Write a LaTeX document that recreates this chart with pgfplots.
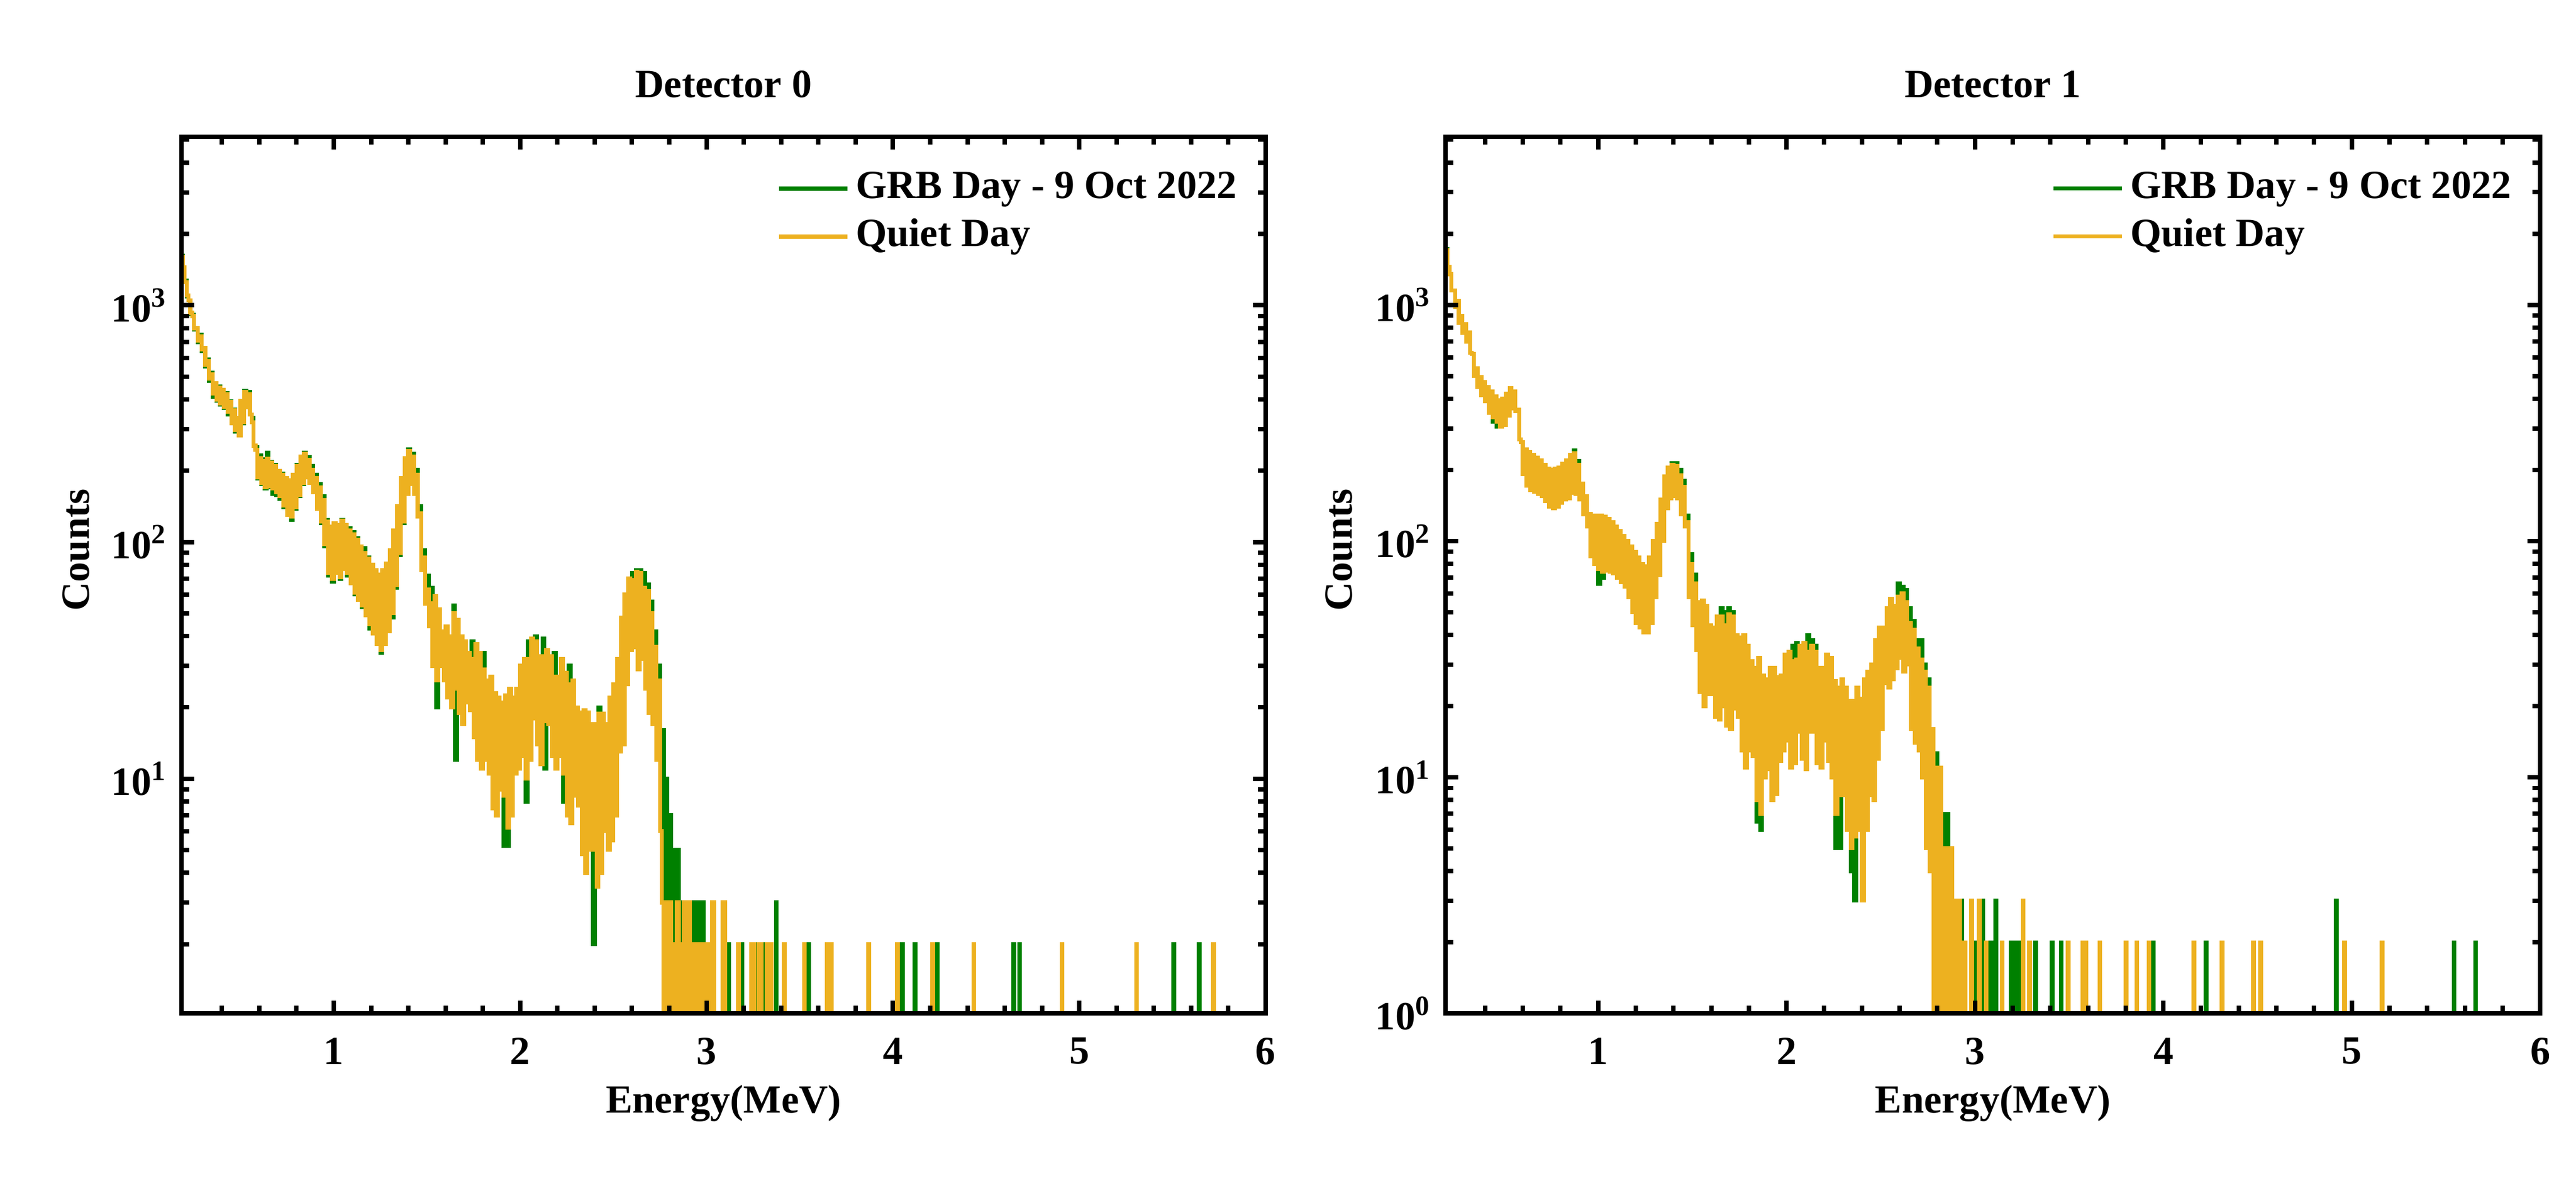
\documentclass[border=0pt]{standalone}
\usepackage{fontspec}
\setmainfont{Liberation Serif}
\usepackage{pgfplots}
\usepackage{pgfplotstable}
\pgfplotsset{compat=1.18}
\definecolor{grb}{RGB}{0,128,0}
\definecolor{quiet}{RGB}{237,177,32}

\pgfplotstableread{
E y
0.18 1600
0.19 1450
0.20 1250
0.21 1100
0.22 1050
0.23 930
0.24 900
0.25 800
0.26 800
0.27 710
0.28 740
0.29 650
0.30 660
0.31 560
0.32 580
0.33 490
0.34 510
0.35 425
0.36 470
0.37 400
0.38 450
0.39 385
0.40 440
0.41 372
0.42 420
0.43 355
0.44 390
0.45 318
0.46 360
0.47 298
0.48 335
0.49 282
0.50 395
0.51 320
0.52 430
0.53 370
0.54 420
0.55 345
0.56 320
0.57 255
0.58 245
0.59 188
0.60 226
0.61 178
0.62 220
0.63 170
0.64 225
0.65 172
0.66 216
0.67 168
0.68 210
0.69 162
0.70 200
0.71 156
0.72 192
0.73 143
0.74 186
0.75 130
0.76 182
0.77 128
0.78 192
0.79 140
0.80 210
0.81 158
0.82 230
0.83 178
0.84 236
0.85 188
0.86 222
0.87 178
0.88 202
0.89 162
0.90 186
0.91 138
0.92 170
0.93 122
0.94 150
0.95 98
0.96 122
0.97 74
0.98 116
0.99 70
1.00 120
1.01 74
1.02 118
1.03 71
1.04 123
1.05 77
1.06 118
1.07 74
1.08 112
1.09 67
1.10 108
1.11 61
1.12 102
1.13 57
1.14 96
1.15 54
1.16 90
1.17 49
1.18 85
1.19 45
1.20 80
1.21 41
1.22 76
1.23 37
1.24 73
1.25 35
1.26 76
1.27 37
1.28 81
1.29 42
1.30 92
1.31 50
1.32 112
1.33 66
1.34 142
1.35 90
1.36 186
1.37 122
1.38 226
1.39 160
1.40 242
1.41 176
1.42 230
1.43 160
1.44 192
1.45 128
1.46 132
1.47 76
1.48 86
1.49 55
1.50 63
1.51 44
1.52 55
1.53 30
1.54 59
1.55 26
1.56 52
1.57 30
1.58 42
1.59 26
1.60 44
1.61 22
1.62 40
1.63 20
1.64 50
1.65 24
1.66 47
1.67 19
1.68 40
1.69 17
1.70 38
1.71 21
1.72 34
1.73 19.5
1.74 32
1.75 15
1.76 37
1.77 12
1.78 34
1.79 11
1.80 29
1.81 12
1.82 26
1.83 10.5
1.84 27
1.85 7.5
1.86 23
1.87 7
1.88 22
1.89 9
1.90 21
1.91 8.5
1.92 22.5
1.93 6.2
1.94 24
1.95 7
1.96 22
1.97 10.5
1.98 24
1.99 11
2.00 30
2.01 12.5
2.02 32
2.03 10
2.04 32
2.05 12
2.06 39
2.07 18
2.08 38
2.09 14
2.10 33
2.11 11.5
2.12 33
2.13 17.5
2.14 35
2.15 17
2.16 33
2.17 12.5
2.18 27
2.19 11
2.20 27
2.21 12.5
2.22 32
2.23 10.5
2.24 28
2.25 7
2.26 25
2.27 6.5
2.28 26
2.29 8.5
2.30 20
2.31 7.7
2.32 19
2.33 4.8
2.34 19.5
2.35 4
2.36 19
2.37 5
2.38 17
2.39 5
2.40 17
2.41 3.5
2.42 18.8
2.43 4
2.44 18.8
2.45 6
2.46 17
2.47 5
2.48 22
2.49 5.5
2.50 25
2.51 7
2.52 32
2.53 13
2.54 48
2.55 14
2.56 60
2.57 25
2.58 70
2.59 35
2.60 69
2.61 36
2.62 75
2.63 29
2.64 74
2.65 32
2.66 64
2.67 24
2.68 62
2.69 19
2.70 50
2.71 17
2.72 36
2.73 12
2.74 26
2.75 6
2.76 3
2.77 0.1
2.78 3
2.79 0.1
2.80 3
2.81 0.1
2.82 2
2.83 0.1
2.84 3
2.85 0.1
2.86 2
2.87 0.1
2.88 3
2.89 0.1
2.90 3
2.91 0.1
2.92 2
2.93 0.1
2.94 2
2.95 0.1
2.96 2
2.97 0.1
2.98 2
2.99 0.1
3.00 2
3.01 0.1
3.02 2
3.03 3
3.04 0.1
3.085 3
3.10 0.1
3.170 2
3.174 0.1
3.240 2
3.250 0.1
3.253 2
3.257 0.1
3.280 2
3.284 0.1
3.292 2
3.296 0.1
3.324 2
3.328 0.1
3.346 2
3.350 0.1
3.415 2
3.419 0.1
3.523 2
3.527 0.1
3.645 2
3.649 0.1
3.668 2
3.672 0.1
3.868 2
3.872 0.1
4.022 2
4.026 0.1
4.212 2
4.216 0.1
4.432 2
4.436 0.1
4.906 2
4.910 0.1
5.305 2
5.309 0.1
5.719 2
5.723 0.1
6.00 0.1
}\LQ

\pgfplotstableread{
E y
0.18 1620
0.19 1450
0.20 1270
0.21 1090
0.22 1050
0.23 920
0.24 910
0.25 790
0.26 800
0.27 700
0.28 750
0.29 640
0.30 660
0.31 550
0.32 590
0.33 480
0.34 520
0.35 410
0.36 470
0.37 395
0.38 455
0.39 380
0.40 440
0.41 368
0.42 425
0.43 345
0.44 392
0.45 318
0.46 362
0.47 292
0.48 335
0.49 282
0.50 395
0.51 318
0.52 435
0.53 370
0.54 430
0.55 345
0.56 335
0.57 255
0.58 252
0.59 186
0.60 232
0.61 176
0.62 224
0.63 168
0.64 238
0.65 170
0.66 218
0.67 160
0.68 212
0.69 158
0.70 200
0.71 152
0.72 194
0.73 140
0.74 186
0.75 130
0.76 182
0.77 124
0.78 192
0.79 138
0.80 212
0.81 156
0.82 230
0.83 176
0.84 238
0.85 188
0.86 228
0.87 178
0.88 210
0.89 162
0.90 192
0.91 138
0.92 176
0.93 120
0.94 156
0.95 96
0.96 124
0.97 72
0.98 116
0.99 68
1.00 120
1.01 74
1.02 118
1.03 70
1.04 124
1.05 77
1.06 118
1.07 72
1.08 114
1.09 67
1.10 110
1.11 60
1.12 104
1.13 57
1.14 96
1.15 53
1.16 94
1.17 49
1.18 86
1.19 43
1.20 80
1.21 41
1.22 76
1.23 37
1.24 73
1.25 34
1.26 76
1.27 37
1.28 81
1.29 42
1.30 92
1.31 48
1.32 112
1.33 64
1.34 142
1.35 88
1.36 186
1.37 120
1.38 226
1.39 160
1.40 246
1.41 176
1.42 236
1.43 160
1.44 202
1.45 128
1.46 142
1.47 76
1.48 92
1.49 55
1.50 72
1.51 44
1.52 64
1.53 30
1.54 59
1.55 20
1.56 52
1.57 30
1.58 42
1.59 26
1.60 44
1.61 22
1.62 40
1.63 20
1.64 54
1.65 12
1.66 47
1.67 19
1.68 40
1.69 17
1.70 38
1.71 21
1.72 34
1.73 19.5
1.74 38
1.75 15
1.76 37
1.77 12
1.78 34
1.79 11
1.80 34
1.81 12
1.82 26
1.83 10.5
1.84 27
1.85 7.5
1.86 23
1.87 7
1.88 22
1.89 9
1.90 21
1.91 5.2
1.92 22.5
1.93 5.2
1.94 24
1.95 7
1.96 22
1.97 10.5
1.98 24
1.99 11
2.00 30
2.01 12.5
2.02 32
2.03 8
2.04 38
2.05 12
2.06 39
2.07 18
2.08 40
2.09 14
2.10 33
2.11 11.5
2.12 39
2.13 11
2.14 35
2.15 17
2.16 33
2.17 12.5
2.18 34
2.19 11
2.20 27
2.21 12.5
2.22 32
2.23 8
2.24 28
2.25 7
2.26 30
2.27 6.5
2.28 26
2.29 8.5
2.30 20
2.31 7.7
2.32 19
2.33 4.8
2.34 19.5
2.35 4
2.36 19
2.37 5
2.38 17
2.39 2
2.40 17
2.41 3.5
2.42 20
2.43 4
2.44 18.8
2.45 6
2.46 17
2.47 5
2.48 22
2.49 5.5
2.50 25
2.51 7
2.52 32
2.53 13
2.54 48
2.55 14
2.56 60
2.57 25
2.58 70
2.59 35
2.60 74
2.61 36
2.62 76
2.63 29
2.64 76
2.65 32
2.66 74
2.67 24
2.68 66
2.69 19
2.70 56
2.71 17
2.72 42
2.73 12
2.74 30
2.75 7
2.76 16
2.77 0.1
2.78 10
2.79 0.1
2.80 7
2.81 0.1
2.82 5
2.83 0.1
2.84 5
2.85 0.1
2.86 3
2.87 0.1
2.89 3
2.895 0.1
2.93 3
2.935 0.1
2.94 3
2.945 0.1
2.95 3
2.955 0.1
2.96 3
2.965 0.1
2.97 3
2.975 0.1
2.98 3
2.985 0.1
3.117 2
3.121 0.1
3.188 2
3.192 0.1
3.245 2
3.249 0.1
3.269 2
3.273 0.1
3.305 2
3.309 0.1
3.327 2
3.331 0.1
3.372 3
3.376 0.1
3.545 2
3.549 0.1
4.049 2
4.053 0.1
4.117 2
4.121 0.1
4.235 2
4.239 0.1
4.646 2
4.650 0.1
4.678 2
4.682 0.1
5.505 2
5.509 0.1
5.642 2
5.646 0.1
6.00 0.1
}\LG

\pgfplotstableread{
E y
0.19 1700
0.20 1450
0.21 1350
0.22 1150
0.23 1150
0.24 980
0.25 1040
0.26 840
0.27 900
0.28 760
0.29 830
0.30 700
0.31 765
0.32 627
0.33 620
0.34 500
0.35 540
0.36 450
0.37 495
0.38 415
0.39 470
0.40 390
0.41 450
0.42 350
0.43 430
0.44 335
0.45 410
0.46 320
0.47 395
0.48 305
0.49 400
0.50 310
0.51 420
0.52 340
0.53 445
0.54 365
0.55 430
0.56 355
0.57 360
0.58 270
0.59 262
0.60 192
0.61 245
0.62 172
0.63 238
0.64 164
0.65 232
0.66 162
0.67 225
0.68 158
0.69 220
0.70 155
0.71 210
0.72 148
0.73 202
0.74 140
0.75 200
0.76 138
0.77 202
0.78 140
0.79 205
0.80 145
0.81 212
0.82 150
0.83 220
0.84 152
0.85 232
0.86 160
0.87 235
0.88 158
0.89 210
0.90 150
0.91 175
0.92 130
0.93 155
0.94 115
0.95 130
0.96 86
0.97 128
0.98 80
0.99 128
1.00 76
1.01 128
1.02 74
1.03 127
1.04 75
1.05 124
1.06 74
1.07 120
1.08 73
1.09 115
1.10 70
1.11 110
1.12 67
1.13 105
1.14 64
1.15 100
1.16 58
1.17 95
1.18 50
1.19 90
1.20 45
1.21 85
1.22 43
1.23 80
1.24 41
1.25 78
1.26 41
1.27 85
1.28 45
1.29 100
1.30 58
1.31 118
1.32 72
1.33 150
1.34 100
1.35 188
1.36 138
1.37 205
1.38 152
1.39 210
1.40 155
1.41 208
1.42 152
1.43 190
1.44 130
1.45 170
1.46 115
1.47 120
1.48 58
1.49 80
1.50 44
1.51 66
1.52 34.5
1.53 55
1.54 23
1.55 56
1.56 20
1.57 53
1.58 22.5
1.59 44
1.60 22.5
1.61 43
1.62 18
1.63 48
1.64 17.5
1.65 48
1.66 20
1.67 44
1.68 16.5
1.69 49
1.70 16
1.71 48
1.72 19.5
1.73 40
1.74 18
1.75 39
1.76 13
1.77 40
1.78 11
1.79 36
1.80 13
1.81 31
1.82 12.3
1.83 29
1.84 8
1.85 32
1.86 7
1.87 27
1.88 10
1.89 26
1.90 10.8
1.91 29
1.92 8
1.93 29
1.94 8.5
1.95 26.5
1.96 11.7
1.97 27
1.98 13
1.99 33
2.00 14.3
2.01 34
2.02 11
2.03 31
2.04 11.5
2.05 31.5
2.06 15.6
2.07 36
2.08 12
2.09 37
2.10 10.8
2.11 34
2.12 15.6
2.13 36
2.14 15.6
2.15 34
2.16 11.5
2.17 29
2.18 11
2.19 29
2.20 14.3
2.21 33
2.22 11.7
2.23 32
2.24 10
2.25 25.5
2.26 7
2.27 24
2.28 8.4
2.29 26
2.30 8.4
2.31 24
2.32 6
2.33 21
2.34 5
2.35 21
2.36 5.6
2.37 24
2.38 6
2.39 21.5
2.40 3
2.41 26
2.42 6
2.43 28
2.44 8.4
2.45 30
2.46 8
2.47 38
2.48 12
2.49 43
2.50 16
2.51 43
2.52 25
2.53 52
2.54 24
2.55 57
2.56 26
2.57 53
2.58 29
2.59 58
2.60 32
2.61 60
2.62 28
2.63 55
2.64 30
2.65 45
2.66 16
2.67 42
2.68 14
2.69 35
2.70 13
2.71 31.5
2.72 10
2.73 28
2.74 5
2.75 24
2.76 4
2.77 16
2.78 0.1
2.79 11
2.80 0.1
2.81 11
2.82 0.1
2.83 5
2.84 0.1
2.85 5
2.86 0.1
2.87 5
2.88 0.1
2.89 3
2.90 0.1
2.91 3
2.92 0.1
2.93 2
2.94 0.1
2.945 2
2.95 0.1
2.980 3
2.984 0.1
3.021 3
3.025 0.1
3.058 2
3.062 0.1
3.142 2
3.146 0.1
3.254 3
3.258 0.1
3.288 2
3.292 0.1
3.493 2
3.497 0.1
3.572 2
3.576 0.1
3.587 2
3.591 0.1
3.661 2
3.665 0.1
3.799 2
3.803 0.1
3.857 2
3.861 0.1
3.921 2
3.925 0.1
4.160 2
4.164 0.1
4.309 2
4.313 0.1
4.477 2
4.481 0.1
4.514 2
4.518 0.1
4.959 2
4.963 0.1
5.159 2
5.163 0.1
6.00 0.1
}\RQ

\pgfplotstableread{
E y
0.19 1720
0.20 1450
0.21 1350
0.22 1150
0.23 1150
0.24 980
0.25 1040
0.26 840
0.27 900
0.28 760
0.29 830
0.30 700
0.31 765
0.32 627
0.33 620
0.34 500
0.35 540
0.36 450
0.37 495
0.38 415
0.39 470
0.40 390
0.41 450
0.42 350
0.43 430
0.44 320
0.45 410
0.46 305
0.47 395
0.48 305
0.49 400
0.50 310
0.51 420
0.52 340
0.53 445
0.54 365
0.55 430
0.56 355
0.57 360
0.58 270
0.59 262
0.60 192
0.61 245
0.62 172
0.63 238
0.64 164
0.65 232
0.66 162
0.67 225
0.68 158
0.69 220
0.70 155
0.71 210
0.72 148
0.73 202
0.74 140
0.75 200
0.76 138
0.77 202
0.78 140
0.79 205
0.80 145
0.81 212
0.82 150
0.83 220
0.84 152
0.85 232
0.86 160
0.87 242
0.88 158
0.89 218
0.90 150
0.91 175
0.92 130
0.93 155
0.94 115
0.95 130
0.96 86
0.97 128
0.98 80
0.99 128
1.00 66
1.01 128
1.02 70
1.03 127
1.04 75
1.05 124
1.06 74
1.07 120
1.08 73
1.09 115
1.10 70
1.11 110
1.12 67
1.13 105
1.14 64
1.15 100
1.16 58
1.17 95
1.18 50
1.19 90
1.20 45
1.21 85
1.22 43
1.23 80
1.24 41
1.25 78
1.26 41
1.27 85
1.28 45
1.29 100
1.30 58
1.31 118
1.32 72
1.33 150
1.34 100
1.35 188
1.36 138
1.37 205
1.38 152
1.39 214
1.40 155
1.41 214
1.42 152
1.43 200
1.44 130
1.45 180
1.46 115
1.47 128
1.48 58
1.49 88
1.50 44
1.51 72
1.52 34.5
1.53 55
1.54 23
1.55 56
1.56 20
1.57 53
1.58 22.5
1.59 44
1.60 22.5
1.61 43
1.62 18
1.63 48
1.64 17.5
1.65 52
1.66 20
1.67 50
1.68 16.5
1.69 52
1.70 16
1.71 50
1.72 19.5
1.73 40
1.74 18
1.75 39
1.76 13
1.77 40
1.78 11
1.79 36
1.80 13
1.81 31
1.82 12.3
1.83 29
1.84 6.5
1.85 32
1.86 6
1.87 27
1.88 10
1.89 26
1.90 10.8
1.91 29
1.92 8
1.93 29
1.94 8.5
1.95 26.5
1.96 11.7
1.97 27
1.98 13
1.99 33
2.00 14.3
2.01 34
2.02 11
2.03 36
2.04 11.5
2.05 37
2.06 15.6
2.07 36
2.08 12
2.09 37
2.10 10.8
2.11 40
2.12 15.6
2.13 38
2.14 15.6
2.15 36
2.16 11.5
2.17 29
2.18 11
2.19 29
2.20 14.3
2.21 33
2.22 11.7
2.23 32
2.24 10
2.25 25.5
2.26 5
2.27 24
2.28 5
2.29 26
2.30 8.4
2.31 24
2.32 6
2.33 21
2.34 4
2.35 21
2.36 3
2.37 24
2.38 6
2.39 21.5
2.40 3
2.41 26
2.42 6
2.43 28
2.44 8.4
2.45 30
2.46 8
2.47 38
2.48 12
2.49 43
2.50 16
2.51 43
2.52 25
2.53 52
2.54 24
2.55 57
2.56 26
2.57 53
2.58 29
2.59 66
2.60 32
2.61 64
2.62 28
2.63 62
2.64 30
2.65 52
2.66 16
2.67 46
2.68 14
2.69 38
2.70 13
2.71 38
2.72 10
2.73 30
2.74 5
2.75 26
2.76 4
2.77 16
2.78 0.1
2.79 12.6
2.80 0.1
2.81 11
2.82 0.1
2.83 7
2.84 0.1
2.85 7
2.86 0.1
2.87 5
2.88 0.1
2.927 3
2.931 0.1
2.998 2
3.002 0.1
3.040 3
3.044 0.1
3.077 2
3.082 0.1
3.087 2
3.092 0.1
3.097 2
3.102 0.1
3.107 3
3.112 0.1
3.189 2
3.194 0.1
3.199 2
3.204 0.1
3.209 2
3.214 0.1
3.219 2
3.224 0.1
3.229 2
3.234 0.1
3.320 2
3.324 0.1
3.407 2
3.411 0.1
3.456 2
3.460 0.1
3.945 2
3.949 0.1
4.225 2
4.229 0.1
4.916 3
4.920 0.1
5.541 2
5.545 0.1
5.655 2
5.659 0.1
6.00 0.1
}\RG

\pgfplotsset{
  mystyle/.style={
    scale only axis,
    height=219.17pt,
    xmax=6, ymax=5150,
    axis on top,
    axis line style={line width=1.1pt},
    tick style={black, line width=1.1pt},
    major tick length=3.2pt,
    minor tick length=1.9pt,
    xtick={1,2,3,4,5,6},
    xticklabels={1,2,3,4,5,6},
    minor xtick={0.4,0.6,0.8,1.2,1.4,1.6,1.8,2.2,2.4,2.6,2.8,3.2,3.4,3.6,3.8,4.2,4.4,4.6,4.8,5.2,5.4,5.6,5.8},
    minor ytick={2,3,4,5,6,7,8,9,20,30,40,50,60,70,80,90,200,300,400,500,600,700,800,900,2000,3000,4000,5000},
    xticklabel style={yshift=-2.6pt, font=\bfseries},
    yticklabel style={font=\bfseries},
    xlabel={Energy(MeV)},
    ylabel={Counts},
    xlabel style={at={(axis description cs:0.5,0)}, anchor=base, yshift=-24.9pt, font=\bfseries},
    ylabel style={at={(axis description cs:-0.0855,0.5286)}, anchor=base, font=\bfseries},
    every axis title shift=0pt,
    title style={at={(axis description cs:0.5,1)}, anchor=base, yshift=9.8pt, font=\bfseries},
    legend cell align=left,
    legend style={draw=none, fill=none, at={(axis description cs:1,1)}, anchor=north east,
      xshift=-5.5pt, yshift=-6.7pt, inner sep=0pt, row sep=0pt, font=\bfseries,
      nodes={inner sep=1.5pt, text height=7pt, text depth=2pt}},
    legend image code/.code={\draw[#1, line width=1.1pt] (0pt,0pt) -- (17.2pt,0pt);},
  }
}

\begin{document}
\begin{tikzpicture}[font=\bfseries]
\path[use as bounding box] (0,0) rectangle (644pt,296.55pt);

\begin{semilogyaxis}[mystyle,
  at={(45.38pt,43.17pt)}, anchor=south west,
  width=271.03pt,
  xmin=0.183, ymin=1.02,
  ytick={10,100,1000},
  yticklabels={10\textsuperscript{1},10\textsuperscript{2},10\textsuperscript{3}},
  title={Detector 0}]
\addplot[const plot, grb, line width=1pt] table[x=E, y=y] {\LG};
\addlegendentry{GRB Day - 9 Oct 2022}
\addplot[const plot, quiet, line width=1pt] table[x=E, y=y] {\LQ};
\addlegendentry{Quiet Day}
\end{semilogyaxis}

\begin{semilogyaxis}[mystyle,
  at={(361.38pt,43.17pt)}, anchor=south west,
  width=273.66pt,
  xmin=0.19, ymin=1,
  ytick={1,10,100,1000},
  yticklabels={10\textsuperscript{0},10\textsuperscript{1},10\textsuperscript{2},10\textsuperscript{3}},
  title={Detector 1}]
\addplot[const plot, grb, line width=1pt] table[x=E, y=y] {\RG};
\addlegendentry{GRB Day - 9 Oct 2022}
\addplot[const plot, quiet, line width=1pt] table[x=E, y=y] {\RQ};
\addlegendentry{Quiet Day}
\end{semilogyaxis}
\end{tikzpicture}
\end{document}
